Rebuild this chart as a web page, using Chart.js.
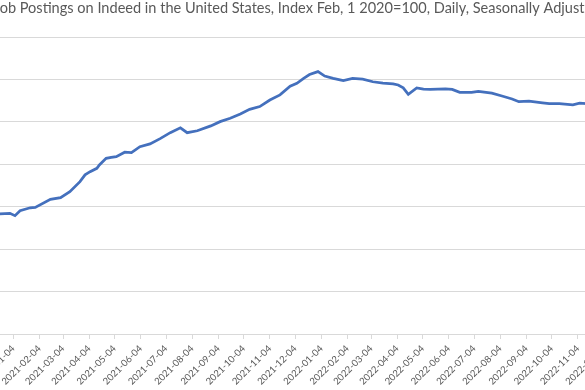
<!DOCTYPE html>
<html>
<head>
<meta charset="utf-8">
<script src="https://cdn.jsdelivr.net/npm/chart.js@4.4.0/dist/chart.umd.min.js"></script>
<style>
html, body { margin: 0; padding: 0; background: #fff; overflow: hidden; width: 585px; height: 390px; }
#wrap { position: absolute; top: 0; }
</style>
</head>
<body>
<div id="wrap"><canvas id="myChart"></canvas></div>
<script>
var title = 'Job Postings on Indeed in the United States, Index Feb, 1 2020=100, Daily, Seasonally Adjusted';

// index values (Feb 1 2020 = 100)
var dates = [
    '2020-12-12', '2020-12-19', '2020-12-31', '2021-01-06', '2021-01-12', '2021-01-24', '2021-01-30',
    '2021-02-17', '2021-03-01', '2021-03-12', '2021-03-24', '2021-03-30', '2021-04-05', '2021-04-13',
    '2021-04-16', '2021-04-24', '2021-04-30', '2021-05-06', '2021-05-16', '2021-05-24', '2021-06-03',
    '2021-06-15', '2021-06-27', '2021-07-09', '2021-07-21', '2021-07-29', '2021-08-10', '2021-08-26',
    '2021-09-06', '2021-09-18', '2021-09-30', '2021-10-11', '2021-10-23', '2021-11-04', '2021-11-16',
    '2021-11-28', '2021-12-06', '2021-12-14', '2021-12-21', '2021-12-31', '2022-01-08', '2022-01-18',
    '2022-01-30', '2022-02-10', '2022-02-22', '2022-03-06', '2022-03-18', '2022-03-30', '2022-04-05',
    '2022-04-11', '2022-04-17', '2022-04-27', '2022-05-05', '2022-05-13', '2022-05-31', '2022-06-08',
    '2022-06-17', '2022-07-01', '2022-07-09', '2022-07-25', '2022-08-06', '2022-08-18', '2022-08-26',
    '2022-09-07', '2022-09-23', '2022-10-01', '2022-10-13', '2022-10-29', '2022-11-06', '2022-11-14',
    '2022-11-20'
];
var values = [
    96.4, 96.6, 96.9, 95.8, 98.1, 99.5, 99.7,
    103.5, 104.3, 107.1, 111.8, 115.0, 116.5, 118.1,
    119.7, 122.8, 123.3, 123.6, 125.7, 125.5, 128.3,
    129.6, 132.1, 134.9, 137.2, 134.9, 135.8, 138.1,
    140.1, 141.7, 143.7, 145.9, 147.2, 150.3, 152.7,
    156.8, 158.2, 160.5, 162.3, 163.7, 161.6, 160.5,
    159.4, 160.5, 160.1, 158.9, 158.3, 157.9, 157.4,
    156.0, 153.0, 156.0, 155.4, 155.3, 155.6, 155.3,
    153.9, 153.9, 154.4, 153.5, 152.2, 150.8, 149.5,
    149.8, 149.0, 148.6, 148.6, 148.0, 148.8, 148.6,
    148.5
];
var tickLabels = [
    '2021-01-04', '2021-02-04', '2021-03-04', '2021-04-04', '2021-05-04', '2021-06-04',
    '2021-07-04', '2021-08-04', '2021-09-04', '2021-10-04', '2021-11-04', '2021-12-04',
    '2022-01-04', '2022-02-04', '2022-03-04', '2022-04-04', '2022-05-04', '2022-06-04',
    '2022-07-04', '2022-08-04', '2022-09-04', '2022-10-04', '2022-11-04', '2022-12-04'
];
var yMin = 40, yMax = 180, yStep = 20;

var grey = '#595959';
var gridGrey = '#d9d9d9';

function dayOf(s) {
    return (Date.parse(s) - Date.parse('2021-01-04')) / 864e5;
}

// the view is a crop of a wider chart: plot area runs past both edges
var px0 = 13.3, pxPerDay = 0.844, off = 100;

var mctx = document.createElement('canvas').getContext('2d');
mctx.font = '12px Lato';
var visW = mctx.measureText(title.slice(1, -2)).width;
var titleSize = 12 * 585 / visW;
mctx.font = titleSize + 'px Lato';
var jW = mctx.measureText('J').width;
var fullW = mctx.measureText(title).width;
var cw = Math.round(2 * (off - jW + fullW / 2));

var wrap = document.getElementById('wrap');
wrap.style.left = (-off) + 'px';
var canvas = document.getElementById('myChart');
canvas.width = cw;
canvas.height = 390;

var tickValues = tickLabels.map(dayOf);

var myChart = new Chart(canvas.getContext('2d'), {
    type: 'line',
    data: {
        datasets: [{
            data: dates.map(function (d, i) { return { x: dayOf(d), y: values[i] }; }),
            borderColor: '#4470BD',
            borderWidth: 2.75,
            pointRadius: 0,
            tension: 0,
            fill: false
        }]
    },
    options: {
        responsive: false,
        animation: false,
        events: [],
        layout: { padding: 0 },
        plugins: {
            legend: { display: false },
            tooltip: { enabled: false },
            title: {
                display: true,
                text: title,
                color: grey,
                font: { family: 'Lato', size: titleSize, weight: 'normal' },
                padding: { top: 0, bottom: 37 - titleSize * 1.2 }
            }
        },
        scales: {
            x: {
                type: 'linear',
                min: (-off - px0) / pxPerDay,
                max: (cw - off - px0) / pxPerDay,
                afterBuildTicks: function (scale) {
                    scale.ticks = tickValues.map(function (v) { return { value: v }; });
                },
                afterFit: function (scale) { scale.height = 56; },
                ticks: {
                    autoSkip: false,
                    minRotation: 45,
                    maxRotation: 45,
                    color: grey,
                    font: { family: 'Lato', size: 9.5 },
                    padding: 4,
                    callback: function (v) {
                        var i = tickValues.indexOf(v);
                        return i >= 0 ? tickLabels[i] : '';
                    }
                },
                grid: {
                    drawOnChartArea: false,
                    drawTicks: true,
                    tickLength: 5,
                    color: gridGrey
                },
                border: { display: true, color: gridGrey, width: 1 }
            },
            y: {
                min: yMin,
                max: yMax,
                ticks: { display: false, stepSize: yStep },
                grid: { color: gridGrey, drawTicks: false, lineWidth: 1 },
                border: { display: false }
            }
        }
    }
});
</script>
</body>
</html>
